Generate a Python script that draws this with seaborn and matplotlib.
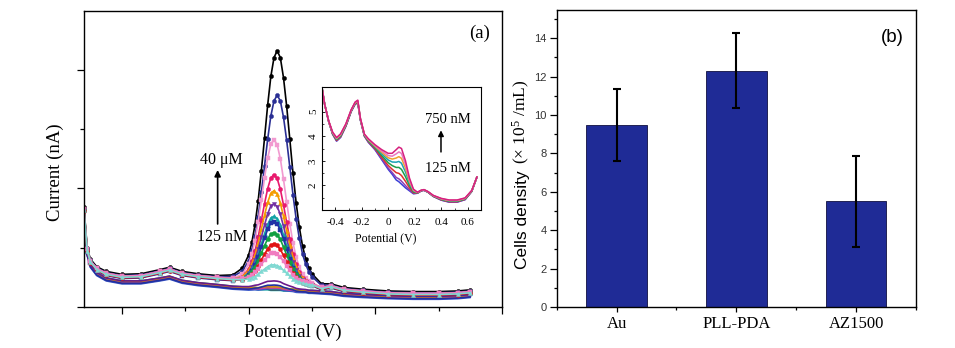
import numpy as np
import matplotlib
matplotlib.use("Agg")
import matplotlib.pyplot as plt
import seaborn as sns
from matplotlib.ticker import FixedLocator, MultipleLocator

# ---------------- panel (a): main DPV curves ----------------
POTENTIAL = [-0.52, -0.51, -0.50, -0.48, -0.45, -0.40, -0.34, -0.28, -0.25, -0.21, -0.16,
             -0.10, -0.05, -0.02, 0.00, 0.01, 0.02, 0.03, 0.04, 0.05, 0.06, 0.07, 0.08,
             0.09, 0.10, 0.11, 0.12, 0.13, 0.14, 0.15, 0.16, 0.17, 0.18, 0.19, 0.20,
             0.23, 0.26, 0.30, 0.36, 0.44, 0.52, 0.60, 0.66, 0.70]
BASE_HIGH = [1.63, 0.95, 0.76, 0.63, 0.55, 0.50, 0.51, 0.58, 0.62, 0.55, 0.51, 0.48, 0.46,
             0.45, 0.44, 0.44, 0.43, 0.43, 0.43, 0.42, 0.42, 0.42, 0.41, 0.41, 0.41, 0.40,
             0.40, 0.40, 0.39, 0.39, 0.39, 0.38, 0.38, 0.37, 0.37, 0.31, 0.34, 0.28, 0.25,
             0.22, 0.21, 0.21, 0.22, 0.24]
BASE_LOW = [1.60, 0.90, 0.70, 0.56, 0.47, 0.42, 0.42, 0.47, 0.50, 0.43, 0.39, 0.36, 0.33,
            0.32, 0.31, 0.31, 0.31, 0.30, 0.30, 0.30, 0.30, 0.29, 0.29, 0.29, 0.29, 0.28,
            0.28, 0.28, 0.28, 0.27, 0.27, 0.27, 0.27, 0.26, 0.26, 0.25, 0.24, 0.21, 0.19,
            0.17, 0.16, 0.16, 0.17, 0.19]
PROFILE_HIGH = [0, 0, 0, 0, 0, 0, 0, 0, 0, 0, 0, 0, 0.008, 0.040, 0.100, 0.155, 0.235, 0.340,
                0.470, 0.615, 0.760, 0.885, 0.970, 1.0, 0.970, 0.885, 0.760, 0.615, 0.470,
                0.340, 0.235, 0.155, 0.100, 0.062, 0.036, 0.008, 0, 0, 0, 0, 0, 0, 0, 0]
PROFILE_LOW = [0, 0, 0, 0, 0, 0, 0, 0, 0, 0, 0, 0, 0.004, 0.034, 0.110, 0.180, 0.280, 0.410,
               0.565, 0.725, 0.866, 0.965, 1.0, 0.965, 0.866, 0.725, 0.565, 0.410, 0.280,
               0.180, 0.110, 0.064, 0.034, 0.018, 0.008, 0.0, 0, 0, 0, 0, 0, 0, 0, 0]
CURVE_PEAK_TOP = [4.32, 3.57, 2.82, 2.23, 1.96, 1.74, 1.53, 1.44, 1.25, 1.06, 0.91, 0.71,
                  0.44, 0.37, 0.34, 0.32, 0.31, 0.30, 0.29, 0.28]
CURVE_BASE = ["high"] * 12 + ["low"] * 8
CURVE_PROFILE = ["high", "high"] + ["low"] * 18
CURVE_OFFSET = [0.05, 0.03, 0.02, 0.0, 0.01, -0.01, 0.0, -0.02, 0.01, -0.01, 0.02, 0.0,
                0.02, -0.02, 0.01, -0.01, 0.02, -0.03, 0.0, -0.01]
CURVE_COLORS = ["#000000", "#2a2f94", "#f29ad0", "#e8196c", "#f59c00", "#7431a3",
                "#13a3a6", "#2233a6", "#12a042", "#e01414", "#f07cc0", "#7fd9d2",
                "#6b1a8c", "#2030a0", "#d08a10", "#d23aa0", "#2aa050", "#3a58c8",
                "#404040", "#20b0b0"]
CURVE_MARKERS = ["o", "o", "s", "o", "^", "v", "^", "s", "o", "o", "s", "^",
                 None, None, None, None, None, None, None, None]

# ---------------- panel (a): inset ----------------
INSET_POT = [-0.50, -0.48, -0.45, -0.42, -0.39, -0.36, -0.32, -0.28, -0.25, -0.23, -0.21,
             -0.18, -0.15, -0.10, -0.05, 0.00, 0.03, 0.06, 0.08, 0.10, 0.13, 0.16, 0.19,
             0.22, 0.25, 0.27, 0.30, 0.34, 0.40, 0.46, 0.52, 0.58, 0.63, 0.67]
INSET_BASE = [5.97, 5.30, 4.60, 4.08, 3.80, 3.95, 4.40, 5.00, 5.30, 5.35, 4.65, 4.00, 3.75,
              3.45, 3.05, 2.65, 2.45, 2.22, 2.15, 2.05, 1.90, 1.78, 1.66, 1.68, 1.78, 1.80,
              1.72, 1.55, 1.40, 1.32, 1.32, 1.42, 1.75, 2.35]
INSET_PROFILE = [0, 0, 0.02, 0.06, 0.10, 0.10, 0.07, 0.05, 0.06, 0.08, 0.05, 0.06, 0.10,
                 0.14, 0.28, 0.45, 0.59, 0.85, 0.97, 1.00, 0.76, 0.36, 0.13, 0.03, 0.02,
                 0.02, 0.02, 0.03, 0.05, 0.06, 0.06, 0.05, 0.03, 0.0]
INSET_AMP = [0.0, 0.12, 0.35, 0.60, 0.85, 1.05, 1.25, 1.45]
INSET_COLORS = ["#3b3fd6", "#8b3fb5", "#e0302c", "#1f9e4a", "#1aa3b5", "#f0a030",
                "#e878c0", "#d6207e"]
INSET_XTICKS = [-0.4, -0.2, 0.0, 0.2, 0.4, 0.6]
INSET_XTICKLABELS = ["-0.4", "-0.2", "0", "0.2", "0.4", "0.6"]
INSET_YTICKS = [2, 3, 4, 5]

# ---------------- panel (b): bar chart ----------------
CATEGORIES = ["Au", "PLL-PDA", "AZ1500"]
DENSITY = [9.5, 12.3, 5.5]
DENSITY_ERR = [1.88, 1.95, 2.36]
BAR_COLOR = "#1f2b96"

# ---------------- style ----------------
sns.set_style("ticks")
plt.rcParams["font.family"] = ["Liberation Serif", "DejaVu Serif"]
plt.rcParams["axes.unicode_minus"] = False
plt.rcParams["mathtext.fontset"] = "custom"
plt.rcParams["mathtext.rm"] = "Liberation Serif"
plt.rcParams["axes.edgecolor"] = "black"
plt.rcParams["axes.linewidth"] = 1.0
plt.rcParams["xtick.color"] = "black"
plt.rcParams["ytick.color"] = "black"
plt.rcParams["text.color"] = "black"

W, H = 955.0, 348.0


def fig_rect(x0, y0, x1, y1):
    return [x0 / W, 1 - y1 / H, (x1 - x0) / W, (y1 - y0) / H]


fig = plt.figure(figsize=(9.55, 3.48), dpi=100)

# ---- main axes (a) ----
ax = fig.add_axes(fig_rect(84, 11, 502, 307))
pot = np.array(POTENTIAL)
bases = {"high": np.array(BASE_HIGH), "low": np.array(BASE_LOW)}
profs = {"high": np.array(PROFILE_HIGH), "low": np.array(PROFILE_LOW)}
order = list(range(19, 11, -1)) + list(range(0, 12))
for i in order:
    b = bases[CURVE_BASE[i]] + CURVE_OFFSET[i]
    p = profs[CURVE_PROFILE[i]]
    k = int(np.argmax(p))
    y = b + (CURVE_PEAK_TOP[i] - b[k]) * p
    kw = dict(color=CURVE_COLORS[i], linewidth=1.2)
    if CURVE_MARKERS[i] is not None:
        kw.update(marker=CURVE_MARKERS[i], markersize=3.0,
                  markeredgecolor=CURVE_COLORS[i], markeredgewidth=0.3)
    sns.lineplot(x=pot, y=y, ax=ax, sort=False, errorbar=None, **kw)

ax.set_xlim(-0.52, 0.8)
ax.set_ylim(0, 4.99)
ax.xaxis.set_major_locator(FixedLocator([-0.4, 0.0, 0.4, 0.8]))
ax.xaxis.set_minor_locator(FixedLocator([-0.2, 0.2, 0.6]))
ax.yaxis.set_major_locator(FixedLocator([0, 2, 4]))
ax.yaxis.set_minor_locator(FixedLocator([1, 3]))
ax.tick_params(which="major", direction="out", length=4.8, width=0.9,
               labelbottom=False, labelleft=False)
ax.tick_params(which="minor", direction="out", length=2.9, width=0.9)
ax.set_xlabel("")
ax.set_ylabel("")
for s in ax.spines.values():
    s.set_visible(True)

fig.text(293.3 / W, 1 - 332 / H, "Potential (V)", ha="center", va="center", fontsize=13.5)
fig.text(55 / W, 1 - 172 / H, "Current (nA)", ha="center", va="center", rotation=90,
         fontsize=13.5)
fig.text(480 / W, 1 - 33 / H, "(a)", ha="center", va="center", fontsize=13.5)

ax.annotate("", xy=(-0.098, 2.31), xytext=(-0.098, 1.40),
            arrowprops=dict(arrowstyle="-|>", lw=1.2, color="black", mutation_scale=9,
                            shrinkA=0, shrinkB=0))
ax.text(-0.085, 2.48, "40 μM", ha="center", va="center", fontsize=11.5)
ax.text(-0.085, 1.18, "125 nM", ha="center", va="center", fontsize=11.5)

# ---- inset ----
axi = fig.add_axes(fig_rect(322, 87, 481, 210))
axi.set_facecolor("white")
ipot = np.array(INSET_POT)
ibase = np.array(INSET_BASE)
iprof = np.array(INSET_PROFILE)
for amp, col in zip(INSET_AMP, INSET_COLORS):
    sns.lineplot(x=ipot, y=ibase + amp * iprof, ax=axi, color=col, linewidth=1.1,
                 sort=False, errorbar=None)
axi.set_xlim(-0.5, 0.7)
axi.set_ylim(1.0, 6.0)
axi.xaxis.set_major_locator(FixedLocator(INSET_XTICKS))
axi.set_xticklabels(INSET_XTICKLABELS)
axi.xaxis.set_minor_locator(MultipleLocator(0.1))
axi.yaxis.set_major_locator(FixedLocator(INSET_YTICKS))
axi.yaxis.set_minor_locator(MultipleLocator(0.5))
axi.tick_params(which="major", direction="in", length=2.2, width=0.6, labelsize=8)
axi.tick_params(axis="x", which="major", pad=5.5)
axi.tick_params(axis="y", which="major", pad=3)
axi.tick_params(which="minor", direction="in", length=1.2, width=0.5)
for lab in axi.get_yticklabels():
    lab.set_rotation(90)
    lab.set_va("center")
axi.set_xlabel("")
axi.set_ylabel("")
for s in axi.spines.values():
    s.set_visible(True)
    s.set_linewidth(0.8)
fig.text(386 / W, 1 - 238.5 / H, "Potential (V)", ha="center", va="center", fontsize=8.5)
axi.annotate("", xy=(0.398, 4.24), xytext=(0.398, 3.36),
             arrowprops=dict(arrowstyle="-|>", lw=1.1, color="black", mutation_scale=8,
                             shrinkA=0, shrinkB=0))
axi.text(0.45, 4.68, "750 nM", ha="center", va="center", fontsize=10.5)
axi.text(0.45, 2.70, "125 nM", ha="center", va="center", fontsize=10.5)

# ---- bar chart (b) ----
axb = fig.add_axes(fig_rect(556.7, 10, 916, 307))
sns.barplot(x=CATEGORIES, y=DENSITY, ax=axb, color=BAR_COLOR, width=0.506,
            edgecolor="#101040", linewidth=0.6, errorbar=None, saturation=1)
centers = [p.get_x() + p.get_width() / 2 for p in axb.patches]
axb.errorbar(centers, DENSITY, yerr=DENSITY_ERR, fmt="none", ecolor="black",
             elinewidth=1.5, capsize=2.6, capthick=1.5, zorder=5)
axb.set_xlim(-0.5, 2.5)
axb.set_ylim(0, 15.47)
axb.yaxis.set_major_locator(MultipleLocator(2))
axb.yaxis.set_minor_locator(MultipleLocator(1))
axb.xaxis.set_minor_locator(FixedLocator([-0.5, 0.5, 1.5, 2.5]))
axb.tick_params(axis="y", which="major", direction="out", length=4.8, width=0.9,
                pad=2.4, labelsize=8, labelcolor="#333333")
axb.tick_params(axis="y", which="minor", direction="out", length=2.4, width=0.9)
axb.tick_params(axis="x", which="major", direction="out", length=3.8, width=0.9,
                pad=2.5, labelsize=12)
axb.tick_params(axis="x", which="minor", direction="out", length=2.4, width=0.9)
for lab in axb.get_yticklabels():
    lab.set_family(["Liberation Sans", "DejaVu Sans"])
axb.set_xlabel("")
axb.set_ylabel("")
for s in axb.spines.values():
    s.set_visible(True)

fig.text(522 / W, 1 - 220 / H, "Cells density", ha="center", va="center", rotation=90,
         fontsize=12.5, family=["Liberation Sans", "DejaVu Sans"])
fig.text(521 / W, 1 - 122 / H, r"(× $\mathregular{10^{5}}$ /mL)", ha="center",
         va="center", rotation=90, fontsize=12.5)
fig.text(892.7 / W, 1 - 38 / H, "(b)", ha="center", va="center", fontsize=13.5,
         family=["Liberation Sans", "DejaVu Sans"])

fig.savefig("out.png", dpi=100)
